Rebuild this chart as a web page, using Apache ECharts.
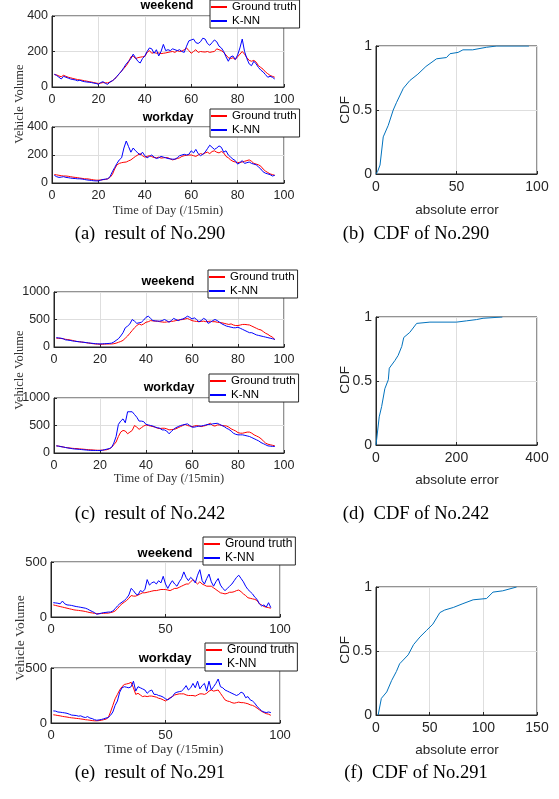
<!DOCTYPE html>
<html>
<head>
<meta charset="utf-8">
<script src="https://cdn.jsdelivr.net/npm/echarts@6/dist/echarts.min.js"></script>
<style>
  html, body { margin: 0; background: #fff; }
  #main { width: 559px; height: 799px; }
</style>
</head>
<body>
<div id="main"></div>
<script>
// time slots of the day (/15min)
const slots = Array.from({ length: 96 }, (_, i) => i + 1);

// No.290
const gt290Weekend = [
  70,68,62,58,66,60,55,52,48,45, 42,40,38,35,33,30,28,25,22,20,
  22,25,24,23,28,35,45,60,75,90, 105,120,140,170,175,160,165,168,170,172,
  195,205,190,195,190,192,188,190,192,195, 198,200,195,205,200,202,210,220,205,190,
  200,210,195,200,198,197,200,195,198,200, 215,210,205,195,180,165,160,165,155,170,
  185,200,185,165,150,145,150,140,120,110, 100,85,75,65,60,55
];
const knn290Weekend = [
  72,65,55,45,60,55,50,45,42,40, 35,38,33,30,28,27,25,22,20,15,
  25,30,20,15,28,35,45,60,75,90, 110,130,145,160,185,165,145,135,160,175,
  200,220,215,190,210,175,200,240,205,210, 205,215,210,205,210,200,195,230,260,265,
  270,250,245,255,275,270,245,235,250,265, 255,230,220,200,170,145,170,175,155,180,
  220,270,200,160,130,120,145,130,110,95, 85,70,55,60,55,45
];
const gt290Workday = [
  60,58,55,52,50,50,48,45,42,40, 38,35,33,30,30,28,25,22,20,20,
  22,24,25,30,40,60,100,130,140,145, 148,150,158,165,178,190,200,210,195,185,
  190,195,188,182,180,185,178,180,182,180, 172,165,170,175,180,190,195,198,200,200,
  195,190,200,210,205,215,220,210,225,230, 220,215,225,215,190,180,165,155,150,145,
  148,150,155,160,165,155,140,135,130,120, 100,85,75,65,60,55
];
const knn290Workday = [
  55,45,40,42,45,40,38,35,33,32, 30,30,28,25,22,20,18,16,15,15,
  20,25,28,30,45,80,110,140,165,180, 250,300,260,220,250,230,215,200,220,195,
  180,190,200,185,175,180,190,185,180,175, 172,170,170,180,195,200,205,200,205,230,
  215,240,210,195,205,220,245,270,255,240, 250,265,255,220,230,200,185,170,160,135,
  145,160,140,145,150,140,135,130,115,100, 80,70,65,60,50,55
];
const err290 = [0,1,2.5,4.5,7.6,10.7,12.8,17,21,26,31,37.6,43.8,46,51,54,60,68.6,75,95];
const cdf290 = [0,0.02,0.07,0.29,0.38,0.5,0.56,0.67,0.73,0.78,0.84,0.9,0.91,0.94,0.95,0.97,0.97,0.99,1,1];

// No.242
const gt242Weekend = [
  160,158,155,150,140,135,128,120,110,100, 95,90,85,78,70,65,60,55,52,50,
  50,52,55,55,55,60,70,85,100,120, 160,200,250,300,350,390,420,400,420,450,
  460,480,475,470,470,460,455,450,455,460, 465,470,480,490,495,500,510,520,500,480,
  470,465,460,465,470,460,465,470,460,460, 450,445,440,430,420,410,420,400,390,390,
  400,410,410,405,400,380,360,340,320,310, 280,250,230,200,180,130
];
const knn242Weekend = [
  170,165,160,150,130,125,120,110,105,100, 95,90,85,80,75,70,65,60,58,55,
  58,60,62,65,70,90,120,150,200,260, 350,380,420,500,470,430,440,450,490,540,
  560,520,480,475,470,470,480,500,480,450, 480,520,500,480,500,510,530,560,540,510,
  530,500,460,480,520,500,430,450,480,500, 480,450,420,400,380,370,360,350,350,360,
  340,320,300,280,260,260,240,220,210,200, 190,180,170,160,150,140
];
const gt242Workday = [
  130,125,118,110,100,95,90,85,82,80, 75,72,68,64,60,58,55,52,50,50,
  52,55,60,75,100,150,200,300,380,410, 400,350,380,410,500,470,430,460,490,510,
  500,490,480,470,450,445,450,450,440,420, 425,430,440,460,480,500,520,500,490,480,
  490,500,490,480,490,500,520,540,500,490, 510,510,500,495,490,470,440,420,400,370,
  360,360,370,380,380,360,330,310,290,260, 220,180,160,150,140,130
];
const knn242Workday = [
  130,125,115,108,100,92,85,78,72,70, 66,62,58,54,50,48,47,46,45,45,
  50,60,70,80,100,180,300,520,580,620, 550,750,750,750,700,650,580,580,570,520,
  510,500,490,470,460,450,420,420,400,350, 390,430,460,480,500,510,520,530,500,470,
  470,480,490,490,500,510,520,520,530,535, 540,520,500,480,450,430,400,360,340,330,
  330,330,320,310,300,280,260,240,220,190, 170,150,130,125,120,120
];
const err242 = [0,1.6,8,14,22,30.6,33,47,55,64,69,84,101,134,200,225,250,266,314];
const cdf242 = [0,0,0.22,0.3,0.44,0.51,0.6,0.66,0.7,0.77,0.84,0.88,0.95,0.96,0.96,0.97,0.98,0.99,1];

// No.291
const gt291Weekend = [
  110,105,100,95,90,85,80,75,70,65, 62,60,57,54,50,45,40,37,33,30,
  30,32,33,35,35,40,45,55,75,100, 120,135,150,170,195,190,190,200,210,220,
  220,225,230,235,240,240,245,250,250,250, 245,240,250,260,260,270,280,290,300,300,
  320,340,320,300,320,300,290,280,280,280, 265,250,235,220,215,210,215,225,225,230,
  240,245,230,210,195,175,170,165,160,150, 120,110,95,90,85,80
];
const knn291Weekend = [
  130,128,125,120,145,120,110,108,105,100, 95,92,88,84,80,72,60,50,40,25,
  30,35,40,42,45,45,55,75,100,120, 135,150,170,200,260,240,210,200,240,230,
  250,340,290,310,320,300,330,310,370,300, 260,300,330,300,280,320,350,410,360,330,
  360,340,310,380,430,330,300,350,390,320, 280,320,350,290,260,240,260,280,300,330,
  360,380,350,320,280,250,230,210,180,160, 120,100,110,90,130,85
];
const gt291Workday = [
  75,72,68,65,60,57,54,50,47,45, 42,40,37,34,30,28,25,22,20,20,
  22,25,30,35,50,100,160,220,260,300, 330,350,355,360,370,320,260,270,255,240,
  245,240,245,245,240,235,225,220,210,200, 215,230,240,255,260,265,265,265,255,250,
  250,250,245,255,265,265,260,270,290,300, 290,295,300,270,240,210,200,195,185,180,
  185,190,185,185,180,175,165,160,150,135, 120,105,95,85,80,70
];
const knn291Workday = [
  110,108,100,98,95,92,88,80,72,70, 68,62,65,55,50,58,45,40,30,25,
  28,32,38,45,50,70,100,160,200,280, 320,330,325,320,330,380,290,330,320,310,
  300,270,290,300,260,260,250,245,235,220, 210,225,240,270,280,285,290,310,340,300,
  320,360,320,380,310,340,360,290,380,300, 330,360,400,330,320,300,290,280,270,260,
  250,260,280,270,230,240,210,200,180,150, 130,110,100,95,100,95
];
const err291 = [2,5,10,14.6,19,22,30,35,41,47,53,59.5,64,72,81,90.5,103,109,118,131];
const cdf291 = [0,0.13,0.18,0.27,0.34,0.4,0.47,0.55,0.61,0.66,0.71,0.8,0.82,0.84,0.87,0.9,0.91,0.96,0.97,1];

const seriesNames = ['Ground truth', 'K-NN'];

// layout of each sub-plot
const panels = [
  { box: [52, 16, 232, 71], yMax: 400, yStep: 200, xStep: 20, gt: gt290Weekend, knn: knn290Weekend, title: 'weekend', tx: 167, ty: 6, lg: [210, 0], fs: 12.5 },
  { box: [52, 127, 232, 56], yMax: 400, yStep: 200, xStep: 20, gt: gt290Workday, knn: knn290Workday, title: 'workday', tx: 168, ty: 118, lg: [210, 109], fs: 12.5 },
  { box: [54, 292, 230, 55], yMax: 1000, yStep: 500, xStep: 20, gt: gt242Weekend, knn: knn242Weekend, title: 'weekend', tx: 168, ty: 282, lg: [208, 270], fs: 12.5 },
  { box: [54, 398, 230, 55], yMax: 1000, yStep: 500, xStep: 20, gt: gt242Workday, knn: knn242Workday, title: 'workday', tx: 169, ty: 388, lg: [209, 374], fs: 12.5 },
  { box: [51, 562, 229, 55], yMax: 500, yStep: 500, xStep: 50, gt: gt291Weekend, knn: knn291Weekend, title: 'weekend', tx: 165, ty: 553, lg: [203, 537], fs: 13 },
  { box: [51, 668, 229, 55], yMax: 500, yStep: 500, xStep: 50, gt: gt291Workday, knn: knn291Workday, title: 'workday', tx: 165, ty: 658, lg: [205, 643], fs: 13 }
];
const cdfPanels = [
  { box: [376, 46, 161, 128], xMax: 100, xStep: 50, err: err290, cdf: cdf290 },
  { box: [376, 317, 161, 128], xMax: 400, xStep: 200, err: err242, cdf: cdf242 },
  { box: [376, 587, 161, 128], xMax: 150, xStep: 50, err: err291, cdf: cdf291 }
];

const axisColor = '#262626';
const sans = 'Liberation Sans';
const serif = 'Liberation Serif';

function axisStyle(fs, margin) {
  return {
    axisLine: { show: true, onZero: false, lineStyle: { color: axisColor, width: 1 } },
    axisTick: { show: true, inside: true, length: 3, lineStyle: { color: axisColor } },
    axisLabel: { color: axisColor, fontSize: fs, fontFamily: sans, margin: margin, showMinLabel: true, showMaxLabel: true,
      formatter: (v) => String(v) },
    splitLine: { show: true, lineStyle: { color: '#dedede', width: 1 } }
  };
}

const grid = [], xAxis = [], yAxis = [], series = [], legend = [], graphic = [];

panels.forEach((p, i) => {
  grid.push({ left: p.box[0], top: p.box[1], width: p.box[2], height: p.box[3], show: true, borderColor: axisColor, borderWidth: 1, containLabel: false, outerBoundsMode: 'none' });
  xAxis.push(Object.assign({ type: 'value', gridIndex: i, min: 0, max: 100, interval: p.xStep }, axisStyle(p.fs, 6)));
  yAxis.push(Object.assign({ type: 'value', gridIndex: i, min: 0, max: p.yMax, interval: p.yStep }, axisStyle(p.fs, 4)));
  [p.gt, p.knn].forEach((vals, k) => {
    const color = k === 0 ? '#ff0000' : '#0000ff';
    series.push({
      name: seriesNames[k], type: 'line', xAxisIndex: i, yAxisIndex: i,
      showSymbol: false, symbol: 'none', z: 2 + k,
      lineStyle: { color: color, width: 1 }, itemStyle: { color: color },
      data: slots.map((x, j) => [x, vals[j]])
    });
  });
  legend.push({
    data: seriesNames, orient: 'vertical', left: p.lg[0], top: p.lg[1],
    padding: [1, 3, 1, 1], itemGap: 2, itemWidth: 16, itemHeight: 2, icon: 'rect',
    backgroundColor: '#fff', borderColor: axisColor, borderWidth: 1, borderRadius: 0,
    selectedMode: false, z: 10,
    textStyle: { fontSize: p.fs - 1, fontFamily: sans, color: '#000', padding: 0 }
  });
  graphic.push({ type: 'text', x: p.tx, y: p.ty, z: 20,
    style: { text: p.title, fontSize: p.fs, fontWeight: 'bold', fontFamily: sans, fill: '#000', align: 'center', verticalAlign: 'middle' } });
});

const base = panels.length;
cdfPanels.forEach((c, n) => {
  const i = base + n;
  grid.push({ left: c.box[0], top: c.box[1], width: c.box[2], height: c.box[3], show: true, borderColor: axisColor, borderWidth: 1, containLabel: false, outerBoundsMode: 'none' });
  xAxis.push(Object.assign({ type: 'value', gridIndex: i, min: 0, max: c.xMax, interval: c.xStep }, axisStyle(14, 6)));
  yAxis.push(Object.assign({ type: 'value', gridIndex: i, min: 0, max: 1, interval: 0.5 }, axisStyle(14, 4)));
  series.push({
    name: 'CDF', type: 'line', xAxisIndex: i, yAxisIndex: i,
    showSymbol: false, symbol: 'none',
    lineStyle: { color: '#0072bd', width: 1 },
    data: c.err.map((e, j) => [e, c.cdf[j]])
  });
});

// axis names and captions
function label(text, x, y, font, size, rot) {
  graphic.push({ type: 'text', x: x, y: y, rotation: rot ? Math.PI / 2 : 0, z: 20,
    style: { text: text, fontSize: size, fontFamily: font, fill: font === serif ? '#333' : axisColor, align: 'center', verticalAlign: 'middle' } });
}
[[104, 211, 168, 12.5], [370, 479, 169, 12.5], [638, 749, 164, 13.5]].forEach(([vy, ty, tx, fs]) => {
  label('Vehicle Volume', 20, vy, serif, fs, true);
  label('Time of Day (/15min)', tx, ty, serif, fs, false);
});
[[110, 210], [380, 480], [650, 750]].forEach(([cy, ay]) => {
  label('CDF', 345, cy, sans, 13.5, true);
  label('absolute error', 457, ay, sans, 13.5, false);
});
const captions = [
  ['(a)\u2002result of No.290', 150, 234], ['(b)\u2002CDF of No.290', 416, 234],
  ['(c)\u2002result of No.242', 150, 514], ['(d)\u2002CDF of No.242', 416, 514],
  ['(e)\u2002result of No.291', 150, 773], ['(f)\u2002CDF of No.291', 416, 773]
];
captions.forEach(([t, x, y]) => {
  graphic.push({ type: 'text', x: x, y: y, z: 20,
    style: { text: t, fontSize: 18.5, fontFamily: serif, fill: '#000', align: 'center', verticalAlign: 'middle' } });
});

const chart = echarts.init(document.getElementById('main'), null, { renderer: 'canvas' });
chart.setOption({
  animation: false,
  backgroundColor: '#fff',
  grid: grid,
  xAxis: xAxis,
  yAxis: yAxis,
  legend: legend,
  series: series,
  graphic: graphic
});
</script>
</body>
</html>
